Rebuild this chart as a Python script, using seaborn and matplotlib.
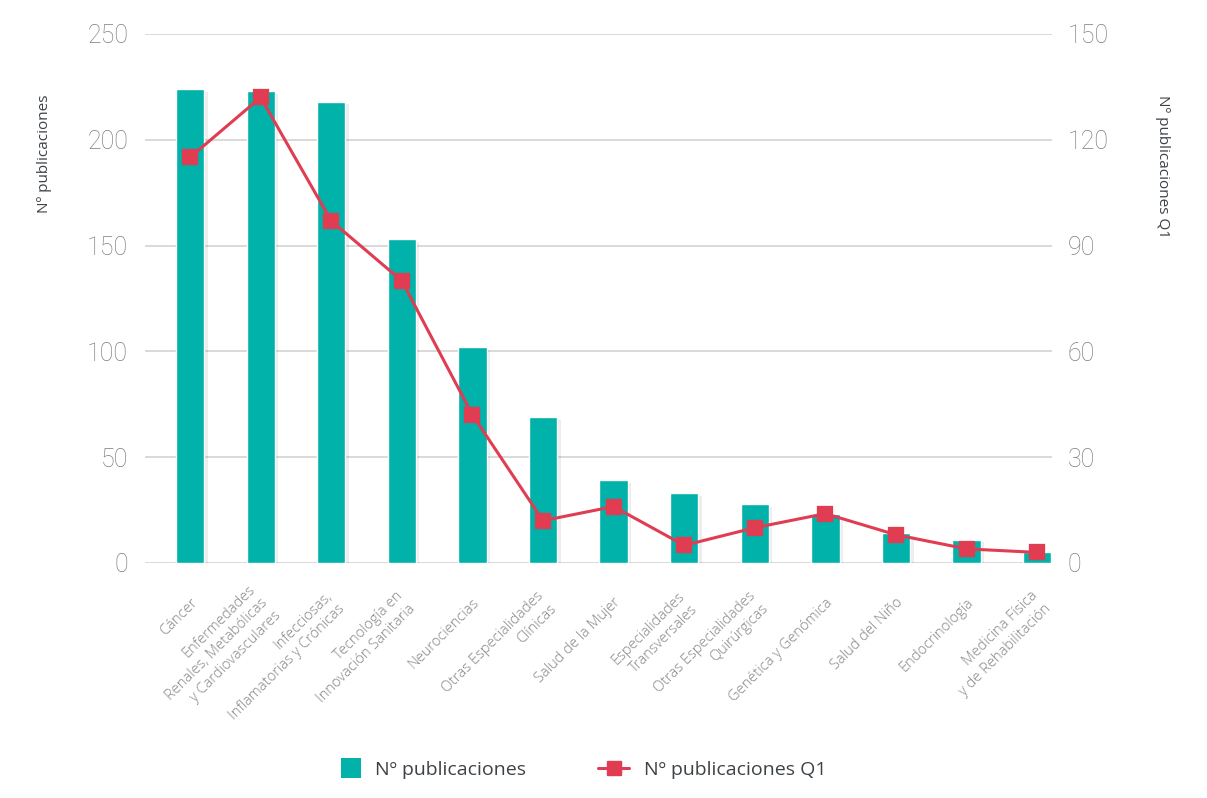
import matplotlib
matplotlib.use("Agg")
import matplotlib.pyplot as plt
import matplotlib.patheffects as pe
from matplotlib.legend_handler import HandlerPatch
from matplotlib.lines import Line2D
from matplotlib.patches import Patch, Rectangle
from matplotlib.transforms import ScaledTranslation
import pandas as pd
import seaborn as sns


AREAS = [
    "Cáncer",
    "Enfermedades\nRenales, Metabólicas\ny Cardiovasculares",
    "Infecciosas,\nInflamatorias y Crónicas",
    "Tecnología en\nInnovación Sanitaria",
    "Neurociencias",
    "Otras Especialidades\nClínicas",
    "Salud de la Mujer",
    "Especialidades\nTransversales",
    "Otras Especialidades\nQuirúrgicas",
    "Genética y Genómica",
    "Salud del Niño",
    "Endocrinología",
    "Medicina Física\ny de Rehabilitación",
]
PUBLICACIONES = [224, 223, 218, 153, 102, 69, 39, 33, 28, 23, 14, 11, 5]
PUBLICACIONES_Q1 = [115, 132, 97, 80, 42, 12, 16, 5, 10, 14, 8, 4, 3]

LEFT_TICKS = [0, 50, 100, 150, 200, 250]
RIGHT_TICKS = [0, 30, 60, 90, 120, 150]

TEAL = "#00b2a9"
RED = "#e03c52"
GRID = "#d0d0d0"
TICK_GREY = "#7d7d7d"
XLABEL_GREY = "#858585"
LABEL_GREY = "#3d4247"


def square_handle(legend, orig_handle, xdescent, ydescent, width, height, fontsize):
    side = 14.5
    return Rectangle((width - side - xdescent, (height - side) / 2 - ydescent), side, side)


def main() -> None:
    sns.set_theme(style="white")
    plt.rcParams["font.family"] = ["Open Sans", "DejaVu Sans"]

    df = pd.DataFrame({"area": AREAS, "pub": PUBLICACIONES, "q1": PUBLICACIONES_Q1})

    fig = plt.figure(figsize=(12.07, 7.98), dpi=100)
    ax = fig.add_axes([0.120, 0.2945, 0.7516, 0.663])

    sns.barplot(data=df, x="area", y="pub", color=TEAL, width=0.4, saturation=1,
                ax=ax, zorder=2)
    for bar in ax.patches:
        bar.set_path_effects([
            pe.SimplePatchShadow(offset=(2.5, -2), shadow_rgbFace="#000000", alpha=0.07),
            pe.Normal(),
        ])

    ax2 = ax.twinx()
    sns.pointplot(data=df, x="area", y="q1", color=RED, markers="s",
                  markersize=10, linewidth=2.2, ax=ax2)

    ax.set_ylim(0, 250)
    ax2.set_ylim(0, 150)
    ax.set_xlim(-0.64, 12.21)

    ax.set_yticks(LEFT_TICKS)
    ax2.set_yticks(RIGHT_TICKS)
    ax.yaxis.grid(True, color=GRID, linewidth=1.1, zorder=0)
    ax.set_axisbelow(True)

    for a in (ax, ax2):
        for s in a.spines.values():
            s.set_visible(False)
        a.tick_params(axis="y", length=0, labelsize=18, labelcolor=TICK_GREY)
        a.set_xlabel("")
        a.set_ylabel("")
        for lab in a.get_yticklabels():
            lab.set_fontfamily(["Roboto", "Open Sans", "DejaVu Sans"])
            lab.set_fontweight("light")

    ax.tick_params(axis="y", pad=12)
    ax2.tick_params(axis="y", pad=11)
    ax.tick_params(axis="x", length=0, pad=27)

    ax.set_xticks(range(len(AREAS)))
    ax.set_xticklabels(AREAS, rotation=45, ha="right", va="center",
                       rotation_mode="anchor", fontsize=10.5, color=XLABEL_GREY,
                       linespacing=1.3, fontweight="light")
    shift = ScaledTranslation(5 / 100, 0, fig.dpi_scale_trans)
    for lab in ax.get_xticklabels():
        lab.set_transform(lab.get_transform() + shift)
    ax2.set_xticks(range(len(AREAS)))
    ax2.tick_params(axis="x", labelbottom=False, length=0)

    ax.text(-0.1103, 0.885, "Nº publicaciones", transform=ax.transAxes,
            rotation=90, rotation_mode="anchor", ha="right", va="center",
            fontsize=11, color=LABEL_GREY)
    ax2.text(1.1213, 0.885, "Nº publicaciones Q1", transform=ax2.transAxes,
             rotation=-90, rotation_mode="anchor", ha="left", va="center",
             fontsize=11, color=LABEL_GREY)

    handles = [
        Patch(facecolor=TEAL, edgecolor="none"),
        Line2D([0], [0], color=RED, linewidth=2.2, marker="s", markersize=10),
    ]
    fig.legend(handles, ["Nº publicaciones", "Nº publicaciones Q1"],
               handler_map={Patch: HandlerPatch(patch_func=square_handle)},
               loc="center", bbox_to_anchor=(0.479, 0.035), ncol=2, frameon=False,
               fontsize=14, labelcolor=LABEL_GREY, handlelength=1.6,
               handletextpad=0.75, columnspacing=3.7)

    fig.savefig("out.png", dpi=100)
    plt.close(fig)


if __name__ == "__main__":
    main()
